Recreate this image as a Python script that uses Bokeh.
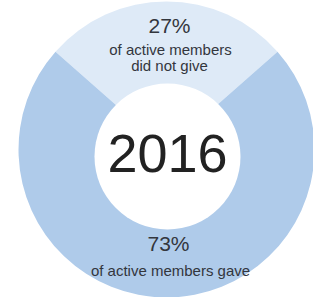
import math
from bokeh.plotting import figure
from bokeh.models import Range1d, ColumnDataSource
from bokeh.core.properties import value
from bokeh.embed import file_html
from bokeh.resources import INLINE

# ---- data ----
categories = ["did not give", "gave"]
shares = [27, 73]
pct_labels = ["27%", "73%"]
desc_lines_top = ["of active members", "did not give"]
desc_lines_bottom = ["of active members gave"]
center_label = "2016"
colors = ["#deeaf7", "#afcbea"]

W, H = 313, 297


def X(img_x):
    return img_x


def Y(img_y):
    return H - img_y


p = figure(width=W, height=H, x_range=Range1d(0, W), y_range=Range1d(0, H),
           output_backend="svg", toolbar_location=None, min_border=0)
p.axis.visible = False
p.grid.visible = False
p.outline_line_color = None

cx, cy, R = X(166), Y(149), 148
hole_x, hole_y, hole_r = X(167), Y(156), 73

total = float(sum(shares))
start0 = 90 - shares[0] / total * 360 / 2
starts, ends = [], []
a = start0
for s in shares:
    starts.append(math.radians(a))
    a += s / total * 360
    ends.append(math.radians(a))

src = ColumnDataSource(dict(cat=categories, share=shares, start=starts, end=ends, color=colors))
p.wedge(x=cx, y=cy, radius=R, start_angle="start", end_angle="end",
        fill_color="color", line_color=None, source=src)
p.circle(x=hole_x, y=hole_y, radius=hole_r, fill_color="white", line_color=None)

font = value("Liberation Sans")
tc = "#33363d"

p.text(x=[X(169), X(168)], y=[Y(24.5), Y(242.5)], text=pct_labels, text_font=font,
       text_font_size="21px", text_align="center", text_baseline="middle",
       text_color=tc)
p.text(x=[X(170), X(169)], y=[Y(48.5), Y(65)], text=desc_lines_top, text_font=font,
       text_font_size="15px", text_align="center", text_baseline="middle",
       text_color=tc)
p.text(x=[X(170)], y=[Y(270)], text=desc_lines_bottom, text_font=font,
       text_font_size="15px", text_align="center", text_baseline="middle",
       text_color=tc)
p.text(x=[X(167)], y=[Y(153)], text=[center_label], text_font=font,
       text_font_size="54px", text_align="center", text_baseline="middle",
       text_color="#222222")

open("out.html", "w").write(file_html(p, INLINE))
